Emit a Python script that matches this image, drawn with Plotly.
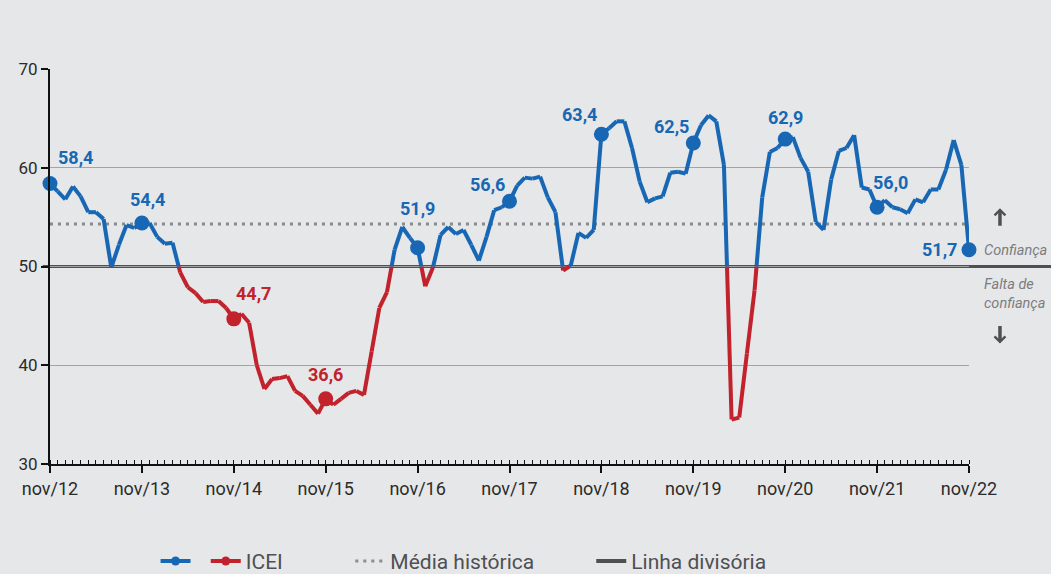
import plotly.graph_objects as go

# ---------------- data ----------------
year_labels = ["nov/12", "nov/13", "nov/14", "nov/15", "nov/16", "nov/17",
               "nov/18", "nov/19", "nov/20", "nov/21", "nov/22"]

icei = [
    58.4, 57.6, 56.8, 58.1, 57.1, 55.5, 55.5, 54.8, 49.9, 52.2, 54.2, 53.9,   # nov/12 - oct/13
    54.4, 54.4, 53.0, 52.3, 52.4, 49.4, 47.9, 47.3, 46.4, 46.5, 46.5, 45.8,   # nov/13 - oct/14
    44.7, 45.2, 44.3, 40.0, 37.6, 38.6, 38.7, 38.9, 37.4, 36.9, 36.0, 35.1,   # nov/14 - oct/15
    36.6, 36.0, 36.6, 37.2, 37.4, 37.0, 41.4, 45.8, 47.4, 51.7, 54.0, 52.9,   # nov/15 - oct/16
    51.9, 48.0, 49.9, 53.2, 54.0, 53.3, 53.7, 52.2, 50.6, 53.0, 55.7, 56.0,   # nov/16 - oct/17
    56.6, 58.2, 59.0, 58.9, 59.1, 57.0, 55.5, 49.6, 50.1, 53.4, 52.9, 53.7,   # nov/17 - oct/18
    63.4, 64.0, 64.7, 64.7, 62.0, 58.6, 56.5, 56.9, 57.1, 59.5, 59.6, 59.4,   # nov/18 - oct/19
    62.5, 64.3, 65.3, 64.7, 60.3, 34.5, 34.7, 41.2, 47.6, 57.0, 61.6, 62.0,   # nov/19 - oct/20
    62.9, 63.1, 61.0, 59.6, 54.5, 53.7, 58.8, 61.7, 62.0, 63.3, 58.0, 57.8,   # nov/20 - oct/21
    56.0, 56.7, 56.0, 55.8, 55.4, 56.8, 56.5, 57.8, 57.8, 59.8, 62.8, 60.3,   # nov/21 - oct/22
    51.7,                                                                     # nov/22
]
historical_mean = 54.3
threshold = 50.0

BLUE = "#1767b4"
RED = "#c1222b"
GREY_TXT = "#7b7c7e"
DARK = "#4f5052"
BG = "#e6e7e9"
NB = "\u00a0"

months = list(range(len(icei)))

# split line into blue (>=50) and red (<50) pieces, cutting at the 50 crossing
bx, by, rx, ry = [], [], [], []
for i in range(len(icei) - 1):
    x0, x1 = months[i], months[i + 1]
    y0, y1 = icei[i], icei[i + 1]
    a0 = y0 >= threshold
    a1 = y1 >= threshold
    if a0 == a1:
        tx, ty = (bx, by) if a0 else (rx, ry)
        tx += [x0, x1, None]
        ty += [y0, y1, None]
    else:
        xc = x0 + (threshold - y0) / (y1 - y0) * (x1 - x0)
        fx, fy = (bx, by) if a0 else (rx, ry)
        sx, sy = (rx, ry) if a0 else (bx, by)
        fx += [x0, xc, None]
        fy += [y0, threshold, None]
        sx += [xc, x1, None]
        sy += [threshold, y1, None]

fig = go.Figure()

# mean line
fig.add_trace(go.Scatter(x=[months[0], months[-1]], y=[historical_mean] * 2, mode="lines",
                         line=dict(color="#8a8b8d", width=3, dash="3px,5px"),
                         hoverinfo="skip", showlegend=False))

fig.add_trace(go.Scatter(x=rx, y=ry, mode="lines", line=dict(color=RED, width=4),
                         showlegend=False, hoverinfo="skip", cliponaxis=False))
fig.add_trace(go.Scatter(x=bx, y=by, mode="lines", line=dict(color=BLUE, width=4),
                         showlegend=False, hoverinfo="skip", cliponaxis=False))

# yearly markers
yr_idx = list(range(0, len(icei), 12))
yr_val = [icei[i] for i in yr_idx]
yr_col = [BLUE if v >= threshold else RED for v in yr_val]
fig.add_trace(go.Scatter(x=yr_idx, y=yr_val, mode="markers", cliponaxis=False,
                         marker=dict(color=yr_col, size=15), showlegend=False))

# label offsets (px) for yearly value labels
label_shift = [(25, 26), (6, 24), (20, 25), (0, 24), (0, 39), (-22, 17),
               (-22, 20), (-22, 17), (0, 22), (13, 25), (-30, 0)]
for (i, v, c, (dx, dy)) in zip(yr_idx, yr_val, yr_col, label_shift):
    fig.add_annotation(x=i, y=v, text=f"<b>{v:.1f}</b>".replace(".", ","), showarrow=False,
                       xshift=dx, yshift=dy, font=dict(color=c, size=18, family="Roboto"))

# legend dummy traces
fig.add_trace(go.Scatter(x=[None], y=[None], mode="lines+markers", name=NB,
                         line=dict(color=BLUE, width=4), marker=dict(size=9, color=BLUE)))
fig.add_trace(go.Scatter(x=[None], y=[None], mode="lines+markers", name="ICEI" + NB * 12,
                         line=dict(color=RED, width=4), marker=dict(size=9, color=RED)))
fig.add_trace(go.Scatter(x=[None], y=[None], mode="lines", name="Média histórica" + NB * 10,
                         line=dict(color="#8a8b8d", width=3, dash="3px,5px")))
fig.add_trace(go.Scatter(x=[None], y=[None], mode="lines", name="Linha divisória",
                         line=dict(color=DARK, width=4)))

# divider line at 50 extending past the plot
fig.add_shape(type="line", xref="paper", yref="y", x0=-0.008, x1=1.1,
              y0=threshold, y1=threshold, line=dict(color=DARK, width=3), layer="below")

# right-side texts and arrows
fig.add_annotation(xref="paper", yref="y", x=1.0337, y=55.9, ax=0, ay=19, text="",
                   showarrow=True, arrowhead=4, arrowsize=0.6, arrowwidth=3.5, arrowcolor=DARK)
fig.add_annotation(xref="paper", yref="y", x=1.0337, y=42.2, ax=0, ay=-19, text="",
                   showarrow=True, arrowhead=4, arrowsize=0.6, arrowwidth=3.5, arrowcolor=DARK)
fig.add_annotation(xref="paper", yref="y", x=1.014, y=51.65, text="<i>Confiança</i>",
                   xanchor="left", showarrow=False, font=dict(color=GREY_TXT, size=14.5, family="Roboto"))
fig.add_annotation(xref="paper", yref="y", x=1.014, y=47.2, text="<i>Falta de<br>confiança</i>",
                   xanchor="left", align="left", showarrow=False,
                   font=dict(color=GREY_TXT, size=14.5, family="Roboto"))

fig.update_layout(
    width=1051, height=574,
    paper_bgcolor=BG, plot_bgcolor=BG,
    margin=dict(l=50, r=82, t=69, b=110, autoexpand=False),
    font=dict(family="Roboto", color="#2b2b2b"),
    showlegend=True,
    legend=dict(orientation="h", x=0.148, xref="container", xanchor="left",
                y=0.022, yref="container", yanchor="middle",
                font=dict(size=21, color=DARK), bgcolor="rgba(0,0,0,0)"),
)
fig.update_xaxes(range=[0, 120], tickvals=yr_idx, ticktext=year_labels,
                 showline=True, linecolor="#111", linewidth=2, showgrid=False, zeroline=False,
                 ticks="outside", ticklen=7, tickcolor="#111", tickwidth=1.5,
                 tickfont=dict(size=18, color="#2b2b2b"),
                 minor=dict(dtick=1, tick0=0, ticks="inside", ticklen=4, tickcolor="#111", tickwidth=1),
                 fixedrange=True)
fig.update_yaxes(range=[30, 70], dtick=10, showline=True, linecolor="#111", linewidth=2,
                 showgrid=True, gridcolor="#a3a4a6", gridwidth=1, zeroline=False,
                 ticks="outside", ticklen=7, tickcolor="#111", tickwidth=1.5,
                 tickfont=dict(size=17, color="#2b2b2b"), fixedrange=True)

fig.write_html("out.html", config={"displayModeBar": False},
               post_script="document.body.style.margin='0';document.body.style.padding='0';")
